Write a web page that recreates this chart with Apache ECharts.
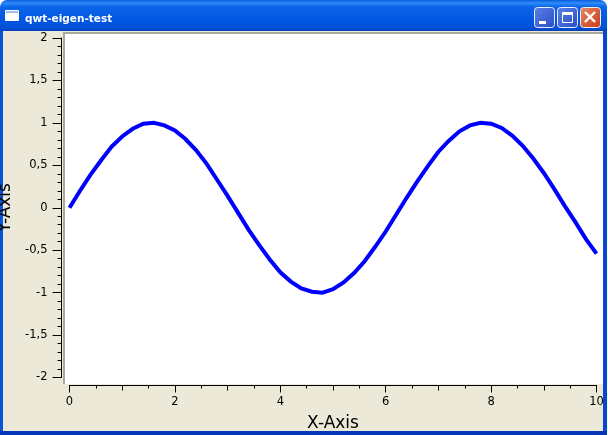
<!DOCTYPE html>
<html>
<head>
<meta charset="utf-8">
<style>html,body{margin:0;padding:0;background:#fff;overflow:hidden}#c{width:608px;height:435px}</style>
<script src="https://cdn.jsdelivr.net/npm/echarts@6/dist/echarts.min.js"></script>
</head>
<body>
<div id="c"></div>
<script>
const windowTitle = 'qwt-eigen-test';
const xAxisName = 'X-Axis';
const yAxisName = 'Y-Axis';
const xValues = [0,0.2,0.4,0.6,0.8,1,1.2,1.4,1.6,1.8,2,2.2,2.4,2.6,2.8,3,3.2,3.4,3.6,3.8,4,4.2,4.4,4.6,4.8,5,5.2,5.4,5.6,5.8,6,6.2,6.4,6.6,6.8,7,7.2,7.4,7.6,7.8,8,8.2,8.4,8.6,8.8,9,9.2,9.4,9.6,9.8,10];
const yValues = [0,0.2,0.39,0.56,0.72,0.84,0.93,0.99,1,0.97,0.91,0.81,0.68,0.52,0.33,0.14,-0.06,-0.26,-0.44,-0.61,-0.76,-0.87,-0.95,-0.99,-1,-0.96,-0.88,-0.77,-0.63,-0.46,-0.28,-0.08,0.12,0.31,0.49,0.66,0.79,0.9,0.97,1,0.99,0.94,0.85,0.73,0.58,0.41,0.22,0.02,-0.17,-0.37,-0.54];

const LEFT = 69.5, RIGHT = 596.5, TOP = 38, BOTTOM = 377.5;
const W = 608, H = 435;
const chart = echarts.init(document.getElementById('c'), null, {renderer:'canvas', width:W, height:H});
const v = (x0,y0,x1,y1,stops)=>({type:'linear',x:x0,y:y0,x2:x1,y2:y1,colorStops:stops.map(s=>({offset:s[0],color:s[1]}))});
const rect = (x,y,w,h,fill,r,extra)=>Object.assign({type:'rect',z:-10,silent:true,shape:{x,y,width:w,height:h,r:r||0},style:{fill}},extra||{});
const titleGrad = v(0,0,0,1,[[0,'#0A5BDD'],[0.1,'#2E8CF8'],[0.22,'#0A64EA'],[0.7,'#0255E0'],[0.9,'#0450D8'],[1,'#0340B8']]);
const btnGrad = v(0,0,1,1,[[0,'#5C82E6'],[1,'#2A4CC4']]);
const closeGrad = v(0,0,1,1,[[0,'#E88868'],[1,'#C83A14']]);
const btnStroke = {stroke:'#E8EEFC',lineWidth:1};
const button = (x,fill)=>({type:'rect',z:-8,silent:true,shape:{x:x+0.5,y:7.5,width:20,height:20,r:3},style:Object.assign({fill},btnStroke)});
const line = (x1,y1,x2,y2,stroke,lw)=>({type:'line',z:-7,silent:true,shape:{x1,y1,x2,y2},style:{stroke,lineWidth:lw}});
const chrome = [
  rect(0,0,W,H,'#FFFFFF'),
  rect(0,0,607,31,titleGrad,[7,7,0,0],{z:-9.5}),
  rect(0,30,3,401,'#0855DD'),
  rect(603,30,4,401,'#0848D0'),
  rect(0,431,607,4,'#0636B8'),
  rect(3,31,600,400,'#ECE9D8'),
  rect(63,32,540,352,'#ACA899',0,{z:-9}),
  rect(65,34,538,350,'#FFFFFF',0,{z:-8.5}),
  rect(5,10,14,11,'#FFFFFF',1,{z:-7}),
  rect(6,11,12,2,'#9DC0F0',0,{z:-6}),
  {type:'text',z:-7,silent:true,style:{x:25,y:19,text:windowTitle,fill:'#FFFFFF',font:'bold 10.5px "DejaVu Sans", sans-serif',textVerticalAlign:'middle',textShadowColor:'#0A2F90',textShadowBlur:0,textShadowOffsetX:1,textShadowOffsetY:1}},
  button(534,btnGrad), button(557,btnGrad), button(580,closeGrad),
  rect(539,21,7,3,'#FFFFFF',0,{z:-7}),
  {type:'rect',z:-7,silent:true,shape:{x:562.5,y:12.5,width:10,height:10},style:{fill:'none',stroke:'#FFFFFF',lineWidth:1}},
  rect(562,12,11,3,'#FFFFFF',0,{z:-7}),
  line(585,12,595,22,'#FFFFFF',2.4), line(595,12,585,22,'#FFFFFF',2.4)
];
const fmt = val => String(val).replace('.', ',');
const axisLabelFont = {color:'#000', fontFamily:'"DejaVu Sans", sans-serif', fontSize:11.5};
const baseX = {
  type:'value', min:0, max:10, position:'bottom', offset:8,
  splitLine:{show:false}, axisLine:{show:true,onZero:false,lineStyle:{color:'#000',width:1}}
};
chart.setOption({
  animation:false,
  backgroundColor:'transparent',
  graphic:{elements:chrome},
  grid:{left:LEFT,top:TOP,width:RIGHT-LEFT,height:BOTTOM-TOP,containLabel:false,outerBoundsMode:'none',show:false},
  xAxis:[
    Object.assign({},baseX,{
      interval:2,
      name:xAxisName,nameLocation:'middle',nameGap:30,
      nameTextStyle:{color:'#000',fontFamily:'"DejaVu Sans", sans-serif',fontSize:17},
      axisTick:{show:true,inside:false,length:7,lineStyle:{color:'#000'}},
      minorTick:{show:true,splitNumber:4,length:3,lineStyle:{color:'#000'}},
      axisLabel:Object.assign({margin:11,formatter:fmt,showMinLabel:true,showMaxLabel:true,hideOverlap:false},axisLabelFont)
    }),
    Object.assign({},baseX,{
      interval:1,
      axisTick:{show:true,length:5,lineStyle:{color:'#000'}},
      minorTick:{show:false},
      axisLabel:{show:false}
    })
  ],
  yAxis:{
    type:'value',min:-2,max:2,interval:0.5,position:'left',offset:8,
    name:yAxisName,nameLocation:'middle',nameGap:40,nameRotate:90,
    nameTextStyle:{color:'#000',fontFamily:'"DejaVu Sans", sans-serif',fontSize:17},
    splitLine:{show:false},
    axisLine:{show:true,onZero:false,lineStyle:{color:'#000',width:1}},
    axisTick:{show:true,length:9,lineStyle:{color:'#000'}},
    minorTick:{show:true,splitNumber:5,length:4,lineStyle:{color:'#000'}},
    axisLabel:Object.assign({margin:14,formatter:fmt,showMinLabel:true,showMaxLabel:true,hideOverlap:false},axisLabelFont)
  },
  series:[{
    type:'line',xAxisIndex:0,yAxisIndex:0,showSymbol:false,smooth:false,clip:false,
    data:xValues.map((x,i)=>[x,yValues[i]]),
    lineStyle:{color:'#0000FF',width:4,join:'miter'}
  }]
});
</script>
</body>
</html>
